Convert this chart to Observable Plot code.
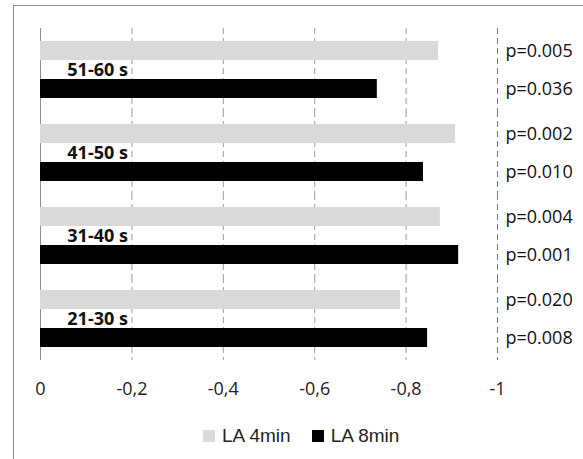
<!DOCTYPE html>
<html>
<head>
<meta charset="utf-8">
<script src="https://cdn.jsdelivr.net/npm/d3@7"></script>
<script src="https://cdn.jsdelivr.net/npm/@observablehq/plot@0.6"></script>
<style>
  html, body { margin: 0; padding: 0; background: #fff; }
  #wrap { position: relative; width: 583px; height: 459px; overflow: hidden; background: #fff; }
  #frame { position: absolute; left: 13px; top: 5px; width: 640px; height: 520px; border: 1px solid #8c8c8c; z-index: 3; pointer-events: none; }
  #chart { position: absolute; left: 0; top: 0; z-index: 1; }
  #legend { position: absolute; left: 203px; top: 425px; display: flex; align-items: center; font-family: "Liberation Sans", Arial, sans-serif; font-size: 19px; color: #222; z-index: 2; }
  .item { display: flex; align-items: center; margin-right: 21px; }
  .sw { width: 12px; height: 12px; margin-right: 7px; }
</style>
</head>
<body>
<div id="wrap">
  <div id="frame"></div>
  <div id="chart"></div>
  <div id="legend"></div>
</div>
<script>
const groups = ["51-60 s", "41-50 s", "31-40 s", "21-30 s"];
const series = ["LA 4min", "LA 8min"];
const la4 = [-0.871, -0.908, -0.875, -0.788];
const la8 = [-0.737, -0.838, -0.915, -0.847];
const p4 = ["p=0.005", "p=0.002", "p=0.004", "p=0.020"];
const p8 = ["p=0.036", "p=0.010", "p=0.001", "p=0.008"];
const ticks = [0, -0.2, -0.4, -0.6, -0.8, -1];
const tickLabels = ["0", "-0,2", "-0,4", "-0,6", "-0,8", "-1"];
const colors = ["#d9d9d9", "#000000"];

const rows = [];
groups.forEach((g, i) => {
  rows.push({group: g, series: series[0], value: la4[i], p: p4[i]});
  rows.push({group: g, series: series[1], value: la8[i], p: p8[i]});
});

const chart = Plot.plot({
  width: 583,
  height: 410,
  marginLeft: 40,
  marginRight: 86,
  marginTop: 27,
  marginBottom: 50,
  style: {background: "transparent", fontFamily: "'Open Sans', sans-serif", fontSize: "18px", color: "#222"},
  x: {domain: [0, -1], axis: null},
  y: {domain: series, paddingInner: 0.49, paddingOuter: 0.33, axis: null},
  fy: {domain: groups, padding: 0, axis: null},
  color: {domain: series, range: colors},
  marks: [
    Plot.ruleX(ticks.slice(1, -1), {stroke: "#9a9a9a", strokeWidth: 1, strokeDasharray: "6,4"}),
    Plot.ruleX(ticks.slice(-1), {stroke: "#7a7a7a", strokeWidth: 1, strokeDasharray: "6,4"}),
    Plot.ruleX(ticks.slice(0, 1), {stroke: "#8c8c8c", strokeWidth: 1}),
    Plot.barX(rows, {x: "value", y: "series", fy: "group", fill: "series"}),
    Plot.text(groups, {fy: d => d, text: d => d, x: () => ticks[1], dx: -4, textAnchor: "end", fontWeight: "bold", fill: "#111", fontSize: 18}),
    Plot.text(rows, {fy: "group", y: "series", x: () => ticks[ticks.length - 1], text: "p", dx: 8, textAnchor: "start", fill: "#111", fontSize: 18}),
    Plot.axisX(ticks, {label: null, tickSize: 0, tickPadding: 22, tickFormat: d => tickLabels[ticks.indexOf(d)], fontSize: 18, fill: "#222"})
  ]
});
document.getElementById("chart").appendChild(chart);

const legend = document.getElementById("legend");
series.forEach((s, i) => {
  const item = document.createElement("div");
  item.className = "item";
  const sw = document.createElement("div");
  sw.className = "sw";
  sw.style.background = colors[i];
  const label = document.createElement("span");
  label.textContent = s;
  item.appendChild(sw);
  item.appendChild(label);
  legend.appendChild(item);
});
</script>
</body>
</html>
